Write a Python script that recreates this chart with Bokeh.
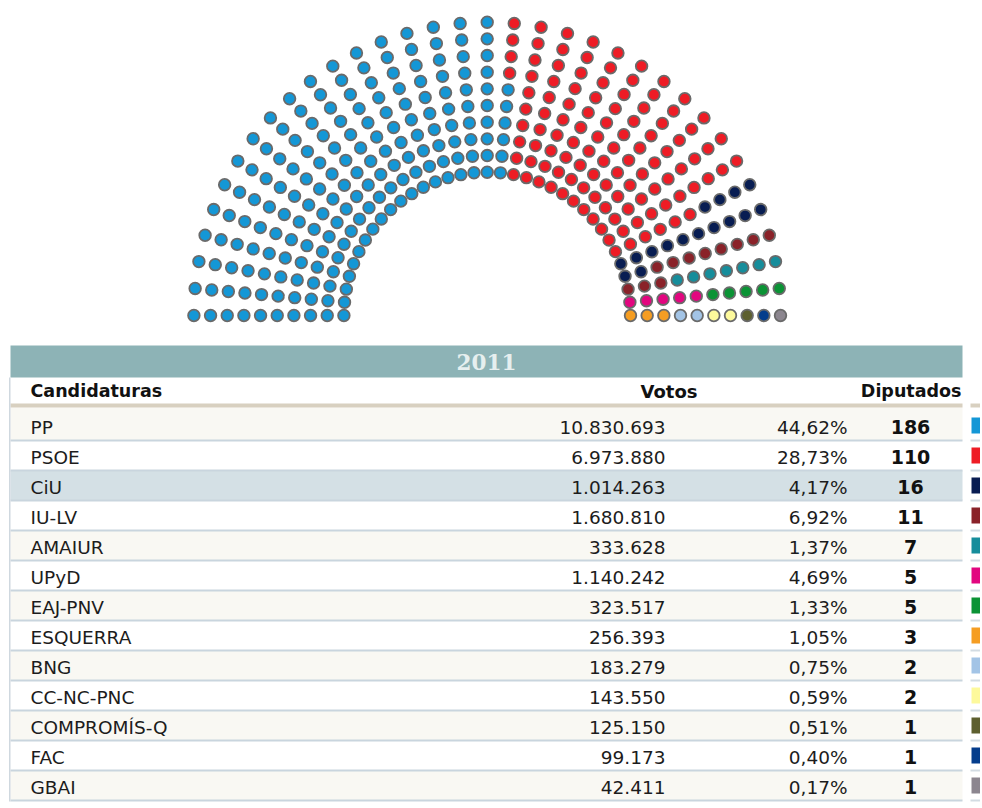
import numpy as np
from bokeh.plotting import figure
from bokeh.models import ColumnDataSource, Range1d
from bokeh.core.properties import value
from bokeh.embed import file_html
from bokeh.resources import INLINE

# ---------------- data ----------------
year = "2011"
parties = ["PP", "PSOE", "CiU", "IU-LV", "AMAIUR", "UPyD", "EAJ-PNV",
           "ESQUERRA", "BNG", "CC-NC-PNC", "COMPROMÍS-Q", "FAC", "GBAI"]
votes = [10830693, 6973880, 1014263, 1680810, 333628, 1140242, 323517,
         256393, 183279, 143550, 125150, 99173, 42411]
percent = [44.62, 28.73, 4.17, 6.92, 1.37, 4.69, 1.33,
           1.05, 0.75, 0.59, 0.51, 0.40, 0.17]
seats = [186, 110, 16, 11, 7, 5, 5, 3, 2, 2, 1, 1, 1]
colors = ["#1497d6", "#ee1c25", "#081d52", "#8a2229", "#168d9b", "#e2067f",
          "#0b9335", "#f59d22", "#a3c4e6", "#fdf99c", "#5d5f2f", "#043d8c",
          "#8c868f"]
col_headers = ["Candidaturas", "Votos", "Diputados"]

# ---------------- figure ----------------
W, H = 980, 806
p = figure(width=W, height=H, x_range=Range1d(0, W), y_range=Range1d(H, 0),
           output_backend="svg", toolbar_location=None, min_border=0,
           x_axis_location=None, y_axis_location=None)
p.grid.visible = False
p.outline_line_color = None
p.background_fill_color = "white"
p.border_fill_color = "white"

FONT = value("DejaVu Sans")

# ---------------- hemicycle ----------------
cx, cy = 486.7, 315.0
r_in, r_out = 143.3, 293.3
n_rows = 10
total = sum(seats)
n_spokes = total // n_rows
seat_colors = []
for s, c in zip(seats, colors):
    seat_colors += [c] * s
k = np.arange(total)
spoke = k // n_rows
row = k % n_rows
ang = np.pi - spoke * np.pi / (n_spokes - 1)
rad = r_in + row * (r_out - r_in) / (n_rows - 1)
sx = cx + rad * np.cos(ang)
sy = cy - rad * np.sin(ang)
p.circle(x=sx, y=sy, radius=5.8, fill_color=seat_colors,
         line_color="#6a6a6a", line_width=1.8)

# ---------------- table ----------------
L, R = 10, 962
SW_L, SW_R = 971, 995
n = len(parties)
row_h = 30.0
row_top0 = 410.0
row_centers = [row_top0 + 15 + i * row_h for i in range(n)]

# header bar
p.quad(left=L, right=R, top=345, bottom=377, fill_color="#8db3b6", line_color=None)
p.text(x=[486], y=[361.5], text=[year], text_font=value("DejaVu Serif"),
       text_font_style="bold", text_font_size=value("21.5px"), text_color="#e6efef",
       text_align="center", text_baseline="middle")

# row backgrounds
bg = []
for i in range(n):
    if parties[i] == "CiU":
        bg.append("#d4e0e5")
    elif i % 2 == 0:
        bg.append("#f9f8f3")
    else:
        bg.append("#ffffff")
tops = [row_top0 + i * row_h for i in range(n)]
tops[0] = 407
bots = [row_top0 + (i + 1) * row_h for i in range(n)]
p.quad(left=L, right=R, top=tops, bottom=bots, fill_color=bg, line_color=None)

# header underline (tan)
p.quad(left=[L, SW_L - 1], right=[R, SW_R], top=403, bottom=407,
       fill_color="#d8d0c0", line_color=None)

# row separators
sep_y = [row_top0 + (i + 1) * row_h for i in range(n)]
p.quad(left=L, right=R, top=[y - 1 for y in sep_y], bottom=[y + 1 for y in sep_y],
       fill_color="#c9d5de", line_color=None)
p.quad(left=SW_L - 1, right=SW_R, top=[y - 1 for y in sep_y], bottom=[y + 1 for y in sep_y],
       fill_color="#d3dce3", line_color=None)

# left border
p.quad(left=8.5, right=10, top=377, bottom=sep_y[-1] + 1, fill_color="#cfd8df", line_color=None)

# colour swatches
p.quad(left=SW_L, right=SW_R, top=[c - 8 for c in row_centers],
       bottom=[c + 8 for c in row_centers], fill_color=colors, line_color=None)

# column headers
hdr_y = 390.5
p.text(x=[30], y=[hdr_y], text=[col_headers[0]], text_font=FONT, text_font_style="bold",
       text_font_size=value("17.5px"), text_color="#111111", text_align="left",
       text_baseline="middle")
p.text(x=[697], y=[hdr_y], text=[col_headers[1]], text_font=FONT, text_font_style="bold",
       text_font_size=value("18px"), text_color="#111111", text_align="right",
       text_baseline="middle")
p.text(x=[961], y=[hdr_y], text=[col_headers[2]], text_font=FONT, text_font_style="bold",
       text_font_size=value("17.5px"), text_color="#111111", text_align="right",
       text_baseline="middle")

# cell texts
vote_txt = [f"{v:,}".replace(",", ".") for v in votes]
pct_txt = [f"{q:.2f}".replace(".", ",") + "%" for q in percent]
seat_txt = [str(s) for s in seats]
ty = [c + 1.5 for c in row_centers]
src = ColumnDataSource(dict(y=ty, party=parties, votes=vote_txt, pct=pct_txt, seats=seat_txt))

p.text(x=30, y="y", text="party", source=src, text_font=FONT, text_font_size=value("18.5px"),
       text_color="#1c1c1c", text_align="left", text_baseline="middle")
p.text(x=665, y="y", text="votes", source=src, text_font=FONT, text_font_size=value("18.5px"),
       text_color="#1c1c1c", text_align="right", text_baseline="middle")
p.text(x=847, y="y", text="pct", source=src, text_font=FONT, text_font_size=value("18.5px"),
       text_color="#1c1c1c", text_align="right", text_baseline="middle")
p.text(x=910, y="y", text="seats", source=src, text_font=FONT, text_font_style="bold",
       text_font_size=value("19px"), text_color="#111111", text_align="center",
       text_baseline="middle")

open("out.html", "w").write(file_html(p, INLINE))
